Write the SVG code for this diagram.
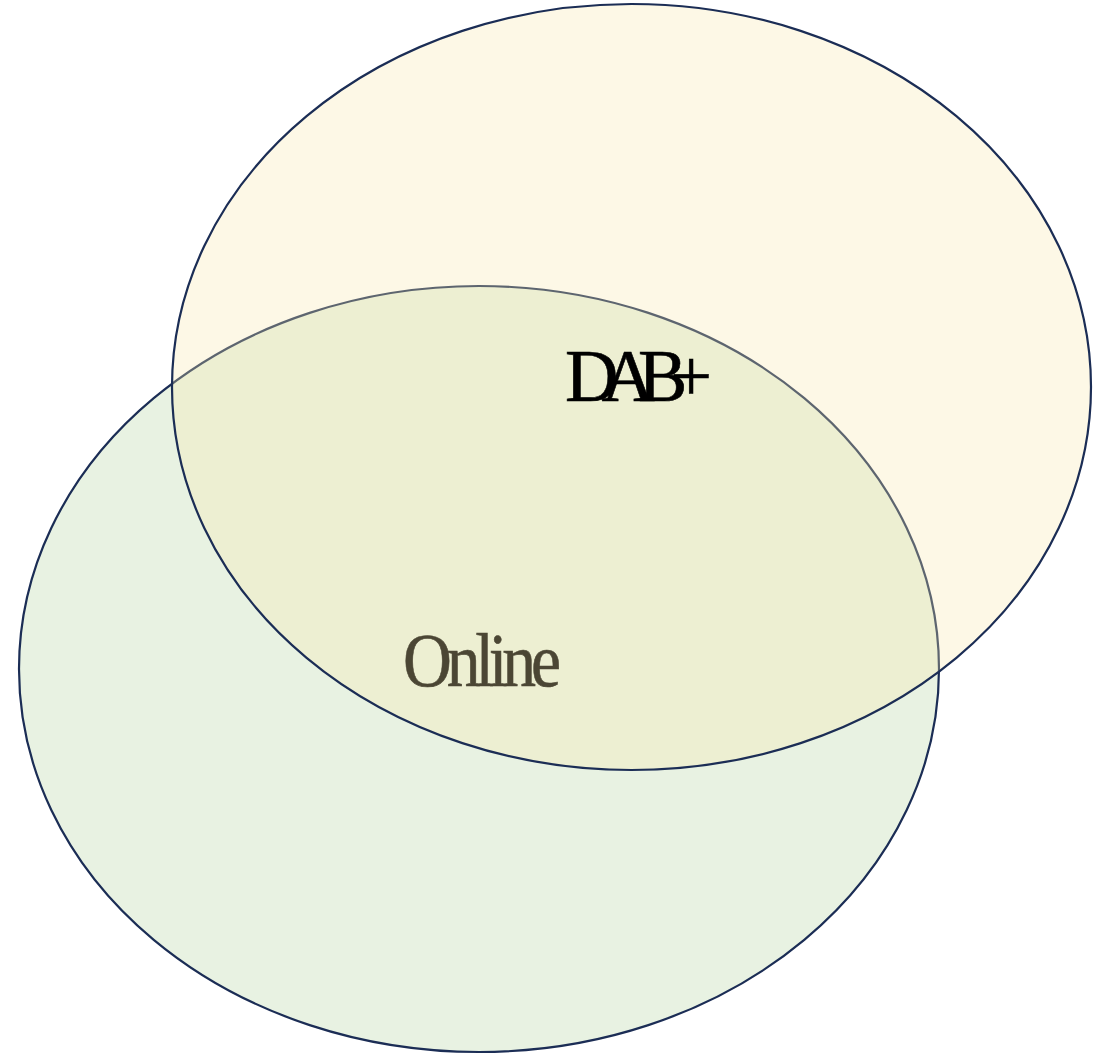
<svg xmlns="http://www.w3.org/2000/svg" width="1094" height="1054" viewBox="0 0 1094 1054">
  <style>
    .set { stroke: #1b2d55; stroke-width: 2.2; }
    .online { fill: #e8f2e2; }
    .dab { fill: #f8e8ac; fill-opacity: 0.3; }
    .label { font-family: "Liberation Serif", "Times New Roman", serif; fill: #000; stroke: #000; stroke-width: 0.6; }
  </style>
  <rect width="1094" height="1054" fill="#ffffff"/>
  <!-- Online set, drawn first so the DAB+ set tints the overlap -->
  <g id="online">
    <ellipse class="set online" cx="479" cy="669" rx="460" ry="383"/>
    <text class="label" transform="translate(403,686) scale(0.88,1)" font-size="77" letter-spacing="-6">Online</text>
  </g>
  <!-- DAB+ set -->
  <g id="dab">
    <ellipse class="set dab" cx="631.5" cy="387" rx="459.5" ry="383"/>
    <text class="label" x="565" y="401" font-size="74" letter-spacing="-17">DAB+</text>
  </g>
  <g id="connectors"/>
</svg>
